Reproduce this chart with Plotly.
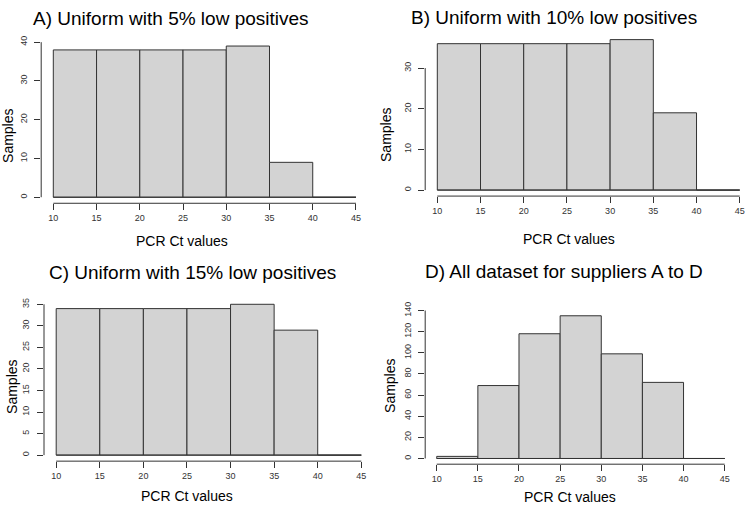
import plotly.graph_objects as go

# ---- data ----
bin_edges = [10, 15, 20, 25, 30, 35, 40, 45]
x_tick_vals = [10, 15, 20, 25, 30, 35, 40, 45]
counts_a = [38, 38, 38, 38, 39, 9, 0]
counts_b = [36, 36, 36, 36, 37, 19, 0]
counts_c = [34, 34, 34, 34, 35, 29, 0]
counts_d = [2, 69, 118, 135, 99, 72, 0]
y_ticks_a = [0, 10, 20, 30, 40]
y_ticks_b = [0, 10, 20, 30]
y_ticks_c = [0, 5, 10, 15, 20, 25, 30, 35]
y_ticks_d = [0, 20, 40, 60, 80, 100, 120, 140]
panel_titles = [
    "A) Uniform with 5% low positives",
    "B) Uniform with 10% low positives",
    "C) Uniform with 15% low positives",
    "D) All dataset for suppliers A to D",
]
x_title = "PCR Ct values"
y_title = "Samples"

W, H = 745, 508
FONT = "Liberation Sans, Arial, Helvetica, sans-serif"
FILL = "#d3d3d3"
EDGE = "#333333"
AXC = "#333333"

centers = [(a + b) / 2 for a, b in zip(bin_edges[:-1], bin_edges[1:])]
widths = [b - a for a, b in zip(bin_edges[:-1], bin_edges[1:])]

panels = [
    dict(counts=counts_a, yt=y_ticks_a, px=(41.2, 368.1), py=(32.5, 198.4),
         xr=(8.6, 46.4), title_xy=(171, 10.5), xt_xy=(181.5, 237), yt_xy=(8, 130)),
    dict(counts=counts_b, yt=y_ticks_b, px=(425.2, 745), py=(26.0, 191.1),
         xr=(8.6, 45.61), title_xy=(553.5, 10), xt_xy=(569, 235), yt_xy=(386, 129)),
    dict(counts=counts_c, yt=y_ticks_c, px=(44.0, 373.5), py=(294.9, 460.4),
         xr=(8.6, 46.4), title_xy=(192, 268.5), xt_xy=(186.5, 496), yt_xy=(12, 385)),
    dict(counts=counts_d, yt=y_ticks_d, px=(425.2, 736.2), py=(306.9, 463.5),
         xr=(8.6, 46.4), title_xy=(564, 268), xt_xy=(570, 497), yt_xy=(390, 384)),
]

fig = go.Figure()
layout = dict(
    width=W, height=H, margin=dict(l=0, r=0, t=0, b=0),
    paper_bgcolor="white", plot_bgcolor="white", showlegend=False,
    font=dict(family=FONT, color="black"),
)
shapes = []
annotations = []

for i, p in enumerate(panels):
    n = "" if i == 0 else str(i + 1)
    xa, ya = "x" + n, "y" + n
    counts = p["counts"]
    ymax = max(counts)
    pad = 0.04 * ymax
    fig.add_trace(go.Bar(
        x=centers, y=counts, width=widths, xaxis=xa, yaxis=ya,
        marker=dict(color=FILL, line=dict(color=EDGE, width=1)),
        hoverinfo="skip",
    ))
    # baseline across all bins (zero-height bins drawn as a flat line, as in R)
    fig.add_trace(go.Scatter(
        x=[bin_edges[0], bin_edges[-1]], y=[0, 0], mode="lines",
        line=dict(color=EDGE, width=1), xaxis=xa, yaxis=ya, hoverinfo="skip",
    ))
    x0, x1 = p["px"]
    y0, y1 = p["py"]
    axis_common = dict(showgrid=False, zeroline=False, showline=False,
                       ticks="outside", ticklen=6, tickwidth=1, tickcolor=AXC,
                       tickfont=dict(size=9, color="#333333", family=FONT))
    layout["xaxis" + n] = dict(
        domain=[x0 / W, x1 / W], range=list(p["xr"]), anchor=ya,
        tickmode="array", tickvals=x_tick_vals, **axis_common)
    layout["yaxis" + n] = dict(
        domain=[1 - y1 / H, 1 - y0 / H], range=[-pad, ymax + pad], anchor=xa,
        tickmode="array", tickvals=p["yt"], tickangle=-90, ticklabelstandoff=4,
        **axis_common)
    # R-style axis lines spanning only the tick range
    shapes.append(dict(type="line", xref=xa, yref=ya + " domain",
                       x0=x_tick_vals[0], x1=x_tick_vals[-1], y0=0, y1=0,
                       line=dict(color=AXC, width=1)))
    shapes.append(dict(type="line", xref=xa + " domain", yref=ya,
                       x0=0, x1=0, y0=p["yt"][0], y1=p["yt"][-1],
                       line=dict(color=AXC, width=1)))
    tx, ty = p["title_xy"]
    annotations.append(dict(text=panel_titles[i], x=tx / W, y=1 - ty / H,
                            xref="paper", yref="paper", xanchor="center", yanchor="middle",
                            showarrow=False, font=dict(size=19, family=FONT, color="black")))
    ax_, ay_ = p["xt_xy"]
    annotations.append(dict(text=x_title, x=ax_ / W, y=1 - ay_ / H,
                            xref="paper", yref="paper", xanchor="center", yanchor="middle",
                            showarrow=False, font=dict(size=14, family=FONT, color="black")))
    bx, by = p["yt_xy"]
    annotations.append(dict(text=y_title, x=bx / W, y=1 - by / H, textangle=-90,
                            xref="paper", yref="paper", xanchor="center", yanchor="middle",
                            showarrow=False, font=dict(size=14, family=FONT, color="black")))

layout["shapes"] = shapes
layout["annotations"] = annotations
fig.update_layout(**layout)
fig.write_html("out.html")
